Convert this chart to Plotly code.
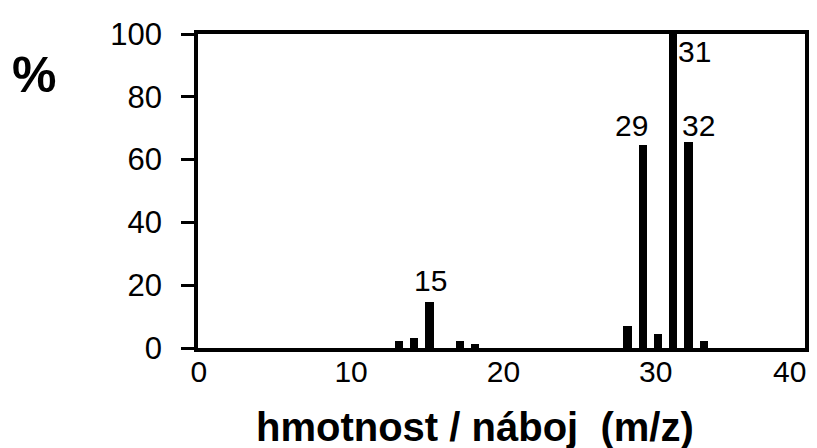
import plotly.graph_objects as go

# Data: mass spectrum (m/z vs relative intensity %)
mz = [13, 14, 15, 17, 18, 28, 29, 30, 31, 32, 33]
intensity = [2.2, 3.2, 14.6, 2.2, 1.3, 7.0, 64.5, 4.4, 100, 65.5, 2.2]

labelled_peaks = [15, 29, 31, 32]
x_ticks = [0, 10, 20, 30, 40]
y_ticks = [0, 20, 40, 60, 80, 100]

# label offsets (px): (xshift, yshift, yanchor)
label_style = {
    15: (3, 3, "bottom"),
    29: (-9, 1, "bottom"),
    31: (24, 1, "top"),
    32: (12, -2, "bottom"),
}

FONT = "Liberation Sans, Arial, sans-serif"
BAR_W = 0.55

fig = go.Figure()
fig.add_trace(go.Bar(
    x=mz, y=intensity, width=BAR_W, offset=-BAR_W / 2 + 0.15,
    marker=dict(color="black", line=dict(width=0)),
    hoverinfo="x+y",
))

ann = []
val = dict(zip(mz, intensity))
for p in labelled_peaks:
    xs, ys, ya = label_style[p]
    ann.append(dict(x=p, y=val[p], xref="x", yref="y", text=str(p),
                    showarrow=False, xanchor="center", yanchor=ya,
                    xshift=xs, yshift=ys,
                    font=dict(family=FONT, size=30, color="black")))

# last x tick label, right-aligned at the frame corner
ann.append(dict(x=1, y=0, xref="paper", yref="paper", text=str(x_ticks[-1]),
                showarrow=False, xanchor="right", yanchor="top",
                xshift=3, yshift=-5,
                font=dict(family=FONT, size=30, color="black")))

ann.append(dict(x=-0.27, y=0.87, xref="paper", yref="paper", text="<b>%</b>",
                showarrow=False, xanchor="center", yanchor="middle",
                font=dict(family=FONT, size=50, color="black")))
ann.append(dict(x=0.456, y=-0.25, xref="paper", yref="paper",
                text="<b>hmotnost / náboj  (m/z)</b>",
                showarrow=False, xanchor="center", yanchor="middle",
                font=dict(family=FONT, size=40, color="black")))

fig.update_layout(
    width=809, height=440,
    margin=dict(l=190, r=12, t=26, b=100),
    paper_bgcolor="white", plot_bgcolor="white",
    showlegend=False,
    bargap=0,
    annotations=ann,
    xaxis=dict(range=[-0.05, 39.8], tickvals=x_ticks[:-1],
               showgrid=False, zeroline=False, automargin=False,
               showline=True, linecolor="black", linewidth=3.5, mirror=True,
               ticks="", ticklabelstandoff=-6,
               tickfont=dict(family=FONT, size=30, color="black")),
    yaxis=dict(range=[0, 100], tickvals=y_ticks,
               showgrid=False, zeroline=False, automargin=False,
               showline=True, linecolor="black", linewidth=3.5, mirror=True,
               ticks="outside", ticklen=13, tickwidth=3, tickcolor="black",
               ticklabelstandoff=13, ticklabeloverflow="allow",
               tickfont=dict(family=FONT, size=31, color="black")),
)

fig.write_html("out.html")
